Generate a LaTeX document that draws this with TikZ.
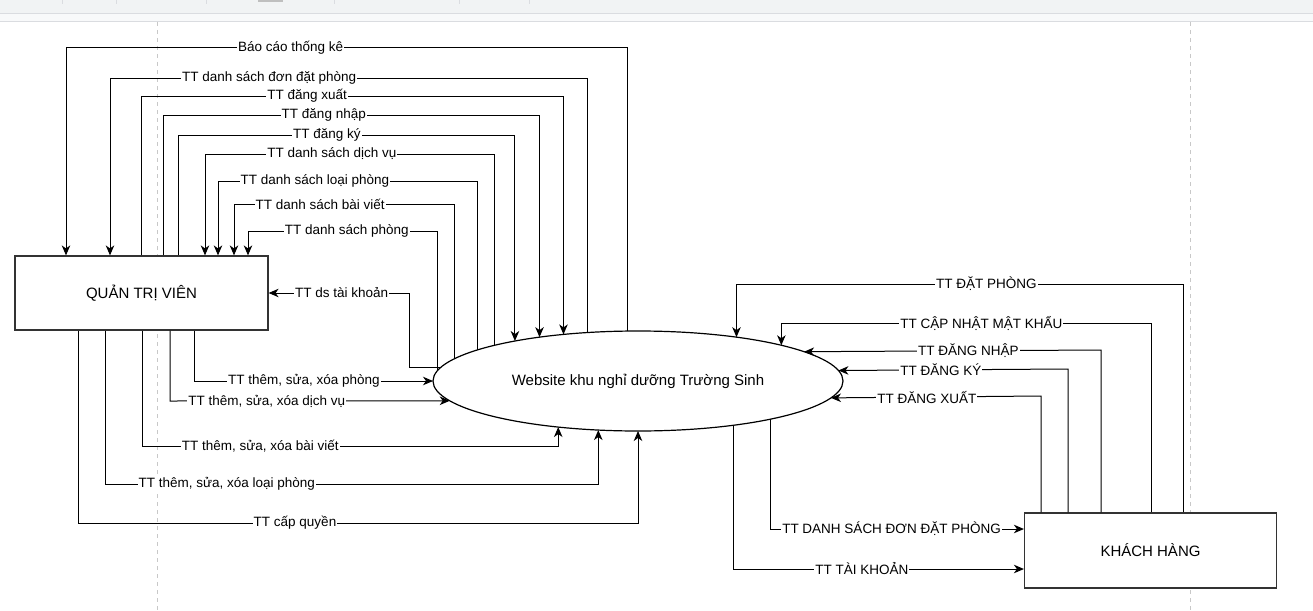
\documentclass[tikz,border=0pt]{standalone}
\usepackage{fontspec}
\setmainfont{Liberation Sans}
\usetikzlibrary{arrows.meta,shapes.geometric}
\definecolor{barbg}{HTML}{F1F3F4}
\definecolor{barbgb}{HTML}{F8F9FA}
\definecolor{barline}{HTML}{DADCE0}
\definecolor{pageline}{HTML}{C8C8C8}
\begin{document}
\begin{tikzpicture}[x=1pt,y=-1pt,
  flow/.style={line width=1pt,-{Stealth[length=10pt,width=8.5pt,inset=3pt]}},
  lbl/.style={fill=white,inner sep=1pt,font=\fontsize{13.5}{15}\selectfont},
  box/.style={draw=black!80,line width=1.2pt,fill=white,minimum width=253pt,minimum height=74pt,font=\fontsize{15}{17}\selectfont},
  proc/.style={ellipse,draw=black,line width=1.2pt,fill=white,minimum width=410pt,minimum height=100pt,inner sep=0pt,outer sep=0pt,font=\fontsize{15}{17}\selectfont}]
  \useasboundingbox (0,0) rectangle (1313,610);
  % editor strip and page breaks
  \fill[barbg] (0,0) rectangle (1313,13);
  \fill[barbgb] (0,14) rectangle (1313,21);
  \draw[barline] (0,13.5) -- (1313,13.5) (0,21.5) -- (1313,21.5);
  \foreach \sx in {62,116,206,334,459,529} \draw[barline] (\sx,0) -- (\sx,4);
  \fill[black!25] (258,0) rectangle (283,2);
  \draw[pageline,dash pattern=on 4pt off 4pt] (157,22) -- (157,610) (1190,22) -- (1190,610);
  % entities
  \node[box] (adm) at (141.5,293) {QUẢN TRỊ VIÊN};
  \node[proc] (ell) at (638,381) {Website khu nghỉ dưỡng Trường Sinh};
  \node[box,minimum width=252pt,minimum height=75pt] (kh) at (1150.5,550.5) {KHÁCH HÀNG};
  % flows above the admin box
  \draw[flow] (ell.102.4) -- (ell.102.4 |- 0,48) -- node[lbl,pos=.6]{Báo cáo thống kê} (66,48) -- (66,48 |- adm.north);
  \draw[flow] (ell.136.5) -- (ell.136.5 |- 0,78) -- node[lbl,pos=.667]{TT danh sách đơn đặt phòng} (110,78) -- (110,78 |- adm.north);
  \draw[flow] (141,96 |- adm.north) -- (141,96) -- node[lbl,pos=.393]{TT đăng xuất} (ell.148.5 |- 0,96) -- (ell.148.5);
  \draw[flow] (163,115 |- adm.north) -- (163,115) -- node[lbl,pos=.427]{TT đăng nhập} (ell.156.5 |- 0,115) -- (ell.156.5);
  \draw[flow] (178,135 |- adm.north) -- (178,135) -- node[lbl,pos=.442]{TT đăng ký} (ell.162 |- 0,135) -- (ell.162);
  \draw[flow] (ell.166.2) -- (ell.166.2 |- 0,154) -- node[lbl,pos=.562]{TT danh sách dịch vụ} (205,154) -- (205,154 |- adm.north);
  \draw[flow] (ell.169.9) -- (ell.169.9 |- 0,181) -- node[lbl,pos=.627]{TT danh sách loại phòng} (218,181) -- (218,181 |- adm.north);
  \draw[flow] (ell.173.1) -- (ell.173.1 |- 0,204) -- node[lbl,pos=.61]{TT danh sách bài viết} (234,204) -- (234,204 |- adm.north);
  \draw[flow] (ell.177.2) -- (ell.177.2 |- 0,231) -- node[lbl,pos=.479]{TT danh sách phòng} (248,231) -- (248,231 |- adm.north);
  \draw[flow] (ell.176.2) -| (409,293) -- node[lbl,pos=.48]{TT ds tài khoản} (adm.east);
  % flows below the admin box
  \draw[flow] (194,381 |- adm.south) -- (194,381) -- node[lbl,pos=.46]{TT thêm, sửa, xóa phòng} (ell.west);
  \draw[flow] (170,401 |- adm.south) -- (170,401) -- node[lbl,pos=.346]{TT thêm, sửa, xóa dịch vụ} (ell.186.1);
  \draw[flow] (142,446 |- adm.south) -- (142,446) -- node[lbl,pos=.284]{TT thêm, sửa, xóa bài viết} (ell.210.9 |- 0,446) -- (ell.210.9);
  \draw[flow] (105,484 |- adm.south) -- (105,484) -- node[lbl,pos=.247]{TT thêm, sửa, xóa loại phòng} (ell.231.3 |- 0,484) -- (ell.231.3);
  \draw[flow] (78,523 |- adm.south) -- (78,523) -- node[lbl,pos=.3875]{TT cấp quyền} (ell.south |- 0,523) -- (ell.south);
  % customer side
  \draw[flow] (1183.6,284 |- kh.north) -- (1183.6,284) -- node[lbl,pos=.441]{TT ĐẶT PHÒNG} (ell.24.3 |- 0,284) -- (ell.24.3);
  \draw[flow] (1151,323 |- kh.north) -- (1151,323) -- node[lbl,pos=.459]{TT CẬP NHẬT MẬT KHẨU} (ell.14.3 |- 0,323) -- (ell.14.3);
  \draw[flow] (1101,350 |- kh.north) -- (1101,350) -- node[lbl,pos=.447]{TT ĐĂNG NHẬP} (ell.10.9);
  \draw[flow] (1068,369 |- kh.north) -- (1068,369) -- node[lbl,pos=.554]{TT ĐĂNG KÝ} (ell.3.45);
  \draw[flow] (1041,396 |- kh.north) -- (1041,396) -- node[lbl,pos=.543]{TT ĐĂNG XUẤT} (ell.355.6);
  \draw[flow] (ell.344.1) -- (ell.344.1 |- 0,529) -- node[lbl,pos=.477]{TT DANH SÁCH ĐƠN ĐẶT PHÒNG} (kh.west |- 0,529);
  \draw[flow] (ell.335) -- (ell.335 |- 0,569) -- node[lbl,pos=.443]{TT TÀI KHOẢN} (kh.west |- 0,569);
\end{tikzpicture}
\end{document}
